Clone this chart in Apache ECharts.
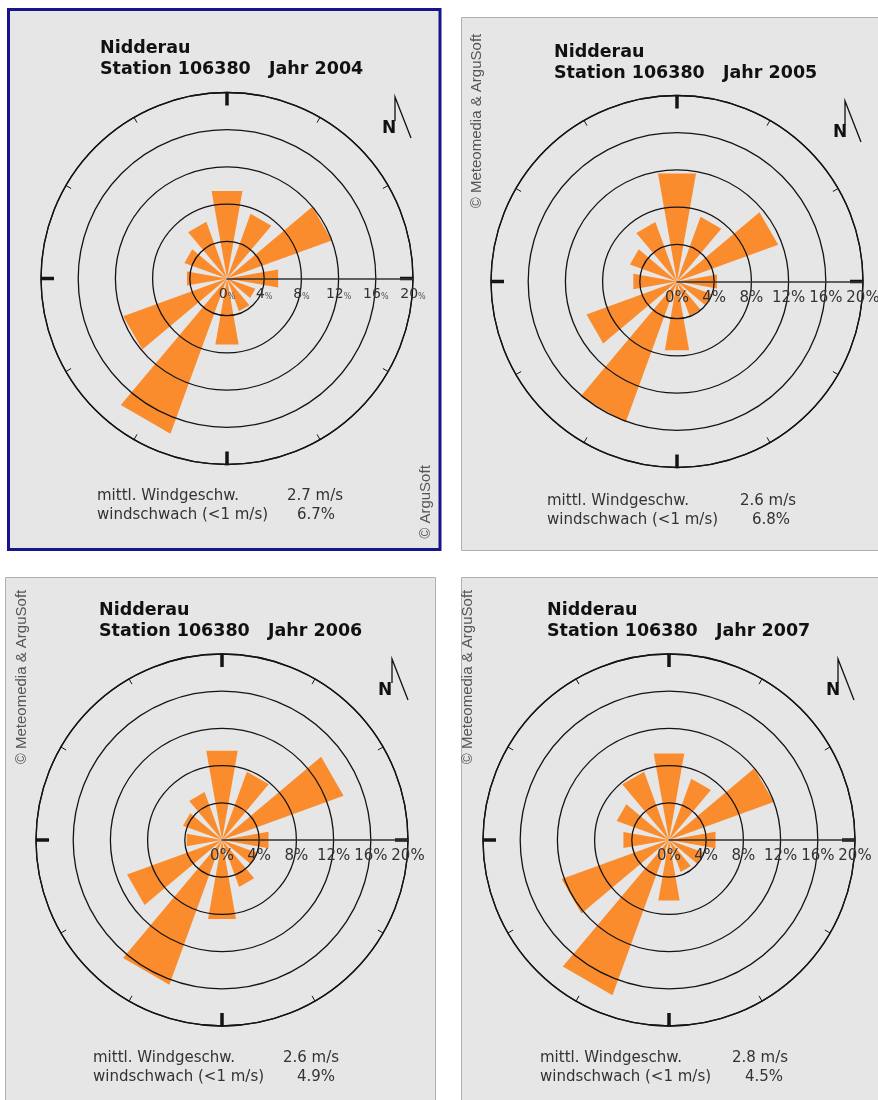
<!DOCTYPE html>
<html>
<head>
<meta charset="utf-8">
<script src="https://cdn.jsdelivr.net/npm/echarts@6/dist/echarts.min.js"></script>
<style>
html,body{margin:0;padding:0;background:#fff;}
#chart{width:878px;height:1100px;}
</style>
</head>
<body>
<div id="chart"></div>
<script>
// ---- data ----
const directions = ['0°','30°','60°','90°','120°','150°','180°','210°','240°','270°','300°','330°'];
const freq2004 = [9.4, 7.3, 11.8, 5.5, 3.2, 3.7, 7.1, 17.5, 11.7, 4.3, 4.8, 6.4];
const freq2005 = [11.6, 7.3, 11.4, 4.3, 4.0, 3.9, 7.4, 15.9, 10.2, 4.7, 5.3, 6.7];
const freq2006 = [9.6, 7.7, 13.7, 5.0, 4.0, 5.3, 8.5, 16.3, 10.7, 3.8, 4.4, 5.4];
const freq2007 = [9.3, 6.9, 11.8, 5.0, 3.9, 3.6, 6.5, 17.5, 12.1, 4.9, 5.9, 7.7];
const years = ['2004', '2005', '2006', '2007'];
const meanSpeed = ['2.7 m/s', '2.6 m/s', '2.6 m/s', '2.8 m/s'];
const calmShare = ['6.7%', '6.8%', '4.9%', '4.5%'];
const ringTicks = [0, 4, 8, 12, 16, 20];
const station = 'Nidderau';
const stationId = '106380';
const copyrights = ['© ArguSoft', '© Meteomedia & ArguSoft', '© Meteomedia & ArguSoft', '© Meteomedia & ArguSoft'];

const series4 = [freq2004, freq2005, freq2006, freq2007];

// ---- layout (positions / styles) ----
const panels = [
  {rect:[8.5,9.5,431.5,540], stroke:'#16168a', lw:3, c:[227,278.5], tx:100, ty:48, nx:382, ny:129, ax:395, ay:97, sx:97, sy:496, v1:287, v2:297, cx:426, cy:502, smallPct:true},
  {rect:[461.5,17.5,430,533], stroke:'#b0b0b0', lw:1, c:[677,281.5], tx:554, ty:52, nx:833, ny:133, ax:845, ay:101, sx:547, sy:501, v1:740, v2:752, cx:477, cy:121, smallPct:false},
  {rect:[5.5,577.5,430,540], stroke:'#b0b0b0', lw:1, c:[222,840], tx:99, ty:610, nx:378, ny:691, ax:392, ay:659, sx:93, sy:1058, v1:283, v2:297, cx:22, cy:677, smallPct:false},
  {rect:[461.5,577.5,430,540], stroke:'#b0b0b0', lw:1, c:[669,840], tx:547, ty:610, nx:826, ny:691, ax:838, ay:659, sx:540, sy:1058, v1:732, v2:745, cx:468, cy:677, smallPct:false}
];
const R = 186;
const ORANGE = '#fb8c2d';
const INK = '#141414';
const FONT = 'DejaVu Sans, Verdana, sans-serif';
const HALF_WIDTH = 10 * Math.PI / 180; // half angular width of a wedge

const polar = [], angleAxis = [], radiusAxis = [], series = [], graphic = [];

function renderWedge(params, api) {
  const v = api.value(0), idx = api.value(1);
  const c = api.coord([0, idx]);
  const p = api.coord([v, idx]);
  const dx = p[0] - c[0], dy = p[1] - c[1];
  const r = Math.sqrt(dx * dx + dy * dy) / Math.cos(HALF_WIDTH);
  const a = Math.atan2(dy, dx);
  const p1 = [c[0] + r * Math.cos(a - HALF_WIDTH), c[1] + r * Math.sin(a - HALF_WIDTH)];
  const p2 = [c[0] + r * Math.cos(a + HALF_WIDTH), c[1] + r * Math.sin(a + HALF_WIDTH)];
  return {type: 'polygon', shape: {points: [c, p1, p2]}, style: {fill: ORANGE}};
}

panels.forEach((p, i) => {
  const pi = polar.length;
  polar.push({center: p.c, radius: R});
  polar.push({center: p.c, radius: R});

  angleAxis.push({
    polarIndex: pi, type: 'category', data: directions, startAngle: 105, clockwise: true, z: 5,
    axisLine: {show: true, lineStyle: {color: INK, width: 1.3}},
    axisTick: {show: true, alignWithLabel: true, inside: true, length: 6, lineStyle: {color: INK, width: 1}},
    axisLabel: {show: false}, splitLine: {show: false}, splitArea: {show: false}
  });
  angleAxis.push({
    polarIndex: pi + 1, type: 'value', min: 0, max: 360, interval: 90, startAngle: 0, z: 6,
    axisLine: {show: false},
    axisTick: {show: true, inside: true, length: 13, lineStyle: {color: INK, width: 3.5}},
    axisLabel: {show: false}, splitLine: {show: false}, splitArea: {show: false}
  });

  radiusAxis.push({
    polarIndex: pi, type: 'value', min: ringTicks[0], max: ringTicks[ringTicks.length - 1], interval: ringTicks[1] - ringTicks[0], z: 5,
    axisLine: {show: false}, axisTick: {show: false}, axisLabel: {show: false},
    splitLine: {show: true, lineStyle: {color: INK, width: 1.3}}, splitArea: {show: false}
  });
  const lbl = p.smallPct
    ? {formatter: v => '{a|' + v + '}{b|%}', rich: {a: {fontSize: 14, fontFamily: FONT, color: '#333'}, b: {fontSize: 8, fontFamily: FONT, color: '#555', padding: [4, 0, 0, 0]}}}
    : {formatter: v => v + '%', fontSize: 15, fontFamily: FONT, color: '#333'};
  radiusAxis.push({
    polarIndex: pi + 1, type: 'value', min: ringTicks[0], max: ringTicks[ringTicks.length - 1], interval: ringTicks[1] - ringTicks[0], z: 6,
    axisLine: {show: true, lineStyle: {color: '#333', width: 1.5}},
    axisTick: {show: false},
    axisLabel: Object.assign({show: true, margin: -9, verticalAlign: 'top', align: 'center', showMinLabel: true, showMaxLabel: true}, lbl),
    splitLine: {show: false}, splitArea: {show: false}
  });

  series.push({
    type: 'custom', coordinateSystem: 'polar', polarIndex: pi,
    data: series4[i].map((v, k) => [v, k]),
    encode: {radius: 0, angle: 1},
    renderItem: renderWedge, z: 2, silent: true
  });

  // panel background
  graphic.push({type: 'rect', z: -10, shape: {x: p.rect[0], y: p.rect[1], width: p.rect[2], height: p.rect[3]},
    style: {fill: '#e6e6e6', stroke: p.stroke, lineWidth: p.lw}, silent: true});
  // titles
  graphic.push({type: 'text', z: 10, x: p.tx, y: p.ty, style: {text: station, font: 'bold 17.5px ' + FONT, fill: '#111', verticalAlign: 'middle'}});
  graphic.push({type: 'text', z: 10, x: p.tx, y: p.ty + 21.5, style: {text: 'Station ' + stationId + '   Jahr ' + years[i], font: 'bold 17.5px ' + FONT, fill: '#111', verticalAlign: 'middle'}});
  // north marker
  graphic.push({type: 'text', z: 10, x: p.nx, y: p.ny, style: {text: 'N', font: 'bold 17px ' + FONT, fill: '#111', verticalAlign: 'middle'}});
  graphic.push({type: 'polyline', z: 10, shape: {points: [[p.ax, p.ay + 24], [p.ax, p.ay], [p.ax + 16, p.ay + 41]]},
    style: {stroke: '#111', lineWidth: 1.3, fill: null}, silent: true});
  // stats
  const f = '15px ' + FONT;
  graphic.push({type: 'text', z: 10, x: p.sx, y: p.sy, style: {text: 'mittl. Windgeschw.', font: f, fill: '#333', verticalAlign: 'middle'}});
  graphic.push({type: 'text', z: 10, x: p.v1, y: p.sy, style: {text: meanSpeed[i], font: f, fill: '#333', verticalAlign: 'middle'}});
  graphic.push({type: 'text', z: 10, x: p.sx, y: p.sy + 19.5, style: {text: 'windschwach (<1 m/s)', font: f, fill: '#333', verticalAlign: 'middle'}});
  graphic.push({type: 'text', z: 10, x: p.v2, y: p.sy + 19.5, style: {text: calmShare[i], font: f, fill: '#333', verticalAlign: 'middle'}});
  // copyright
  graphic.push({type: 'text', z: 10, x: p.cx, y: p.cy, rotation: Math.PI / 2,
    style: {text: copyrights[i], font: '15px Liberation Sans, Arial, sans-serif', fill: '#555', align: 'center', verticalAlign: 'middle'}});
});

const chart = echarts.init(document.getElementById('chart'), null, {renderer: 'canvas'});
chart.setOption({
  backgroundColor: '#ffffff',
  animation: false,
  polar, angleAxis, radiusAxis, series, graphic
});
</script>
</body>
</html>
